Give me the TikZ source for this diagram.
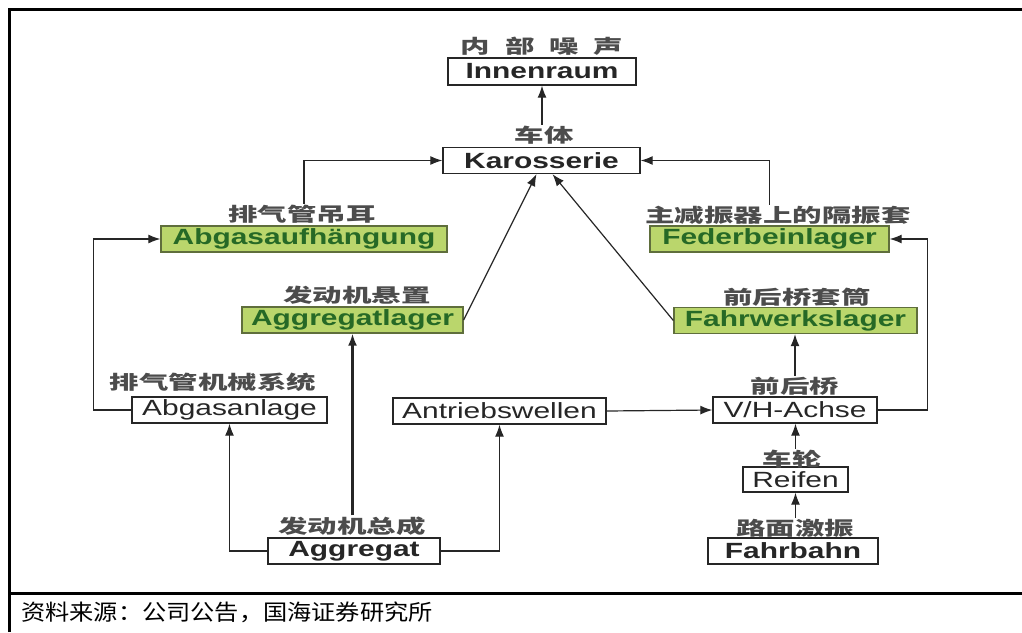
\documentclass[tikz,border=0pt]{standalone}
\usepackage{fontspec}
\setmainfont{Liberation Sans}
\newfontfamily\defont[FakeStretch=1.36]{Liberation Sans}
\newfontfamily\cjkfont[FakeStretch=1.55]{Noto Sans CJK SC}
\newfontfamily\capfont[FakeStretch=1.1]{Noto Sans CJK SC}
\usetikzlibrary{arrows.meta}
\definecolor{gfill}{RGB}{186,214,108}
\definecolor{gtext}{RGB}{38,105,38}
\definecolor{gborder}{RGB}{95,110,60}
\tikzset{
  box/.style={draw=black!85, line width=1.3pt, inner sep=0pt, minimum height=26pt,
    font=\defont\fontsize{22}{24}\selectfont, text=black!85},
  boxb/.style={box, font=\defont\bfseries\fontsize{22}{24}\selectfont},
  gbox/.style={boxb, fill=gfill, draw=gborder, text=gtext},
  lab/.style={font=\cjkfont\bfseries\fontsize{19}{22}\selectfont, text=black!70, inner sep=1pt},
  con/.style={line width=1.2pt, draw=black!85, -{Latex[length=12pt,width=9pt]}},
  frame/.style={line width=3pt}
}
\begin{document}
\begin{tikzpicture}[x=1pt,y=-1pt]
\useasboundingbox (0,0) rectangle (1022,632);
% frame
\draw[frame] (9,632) -- (9,9) -- (1022,9);
\draw[frame] (9,593) -- (1022,593);
\node[anchor=west, inner sep=0pt, font=\capfont\fontsize{22}{26}\selectfont] (cap) at (21,612) {资料来源：公司公告，国海证券研究所};
% nodes
\node[boxb, minimum width=188pt, minimum height=27pt] (inn) at (542,71.5) {Innenraum};
\node[lab] (innl) at (542,46) {内\hspace{15pt}部\hspace{15pt}噪\hspace{15pt}声};
\node[boxb, minimum width=197pt] (kar) at (541.5,160.5) {Karosserie};
\node[lab] (karl) at (544,135) {车体};
\node[gbox, minimum width=286pt] (aufh) at (304,239) {Abgasaufhängung};
\node[lab] (aufhl) at (302,214) {排气管吊耳};
\node[gbox, minimum width=239pt] (fed) at (769.5,239) {Federbeinlager};
\node[lab] (fedl) at (778,215) {主减振器上的隔振套};
\node[gbox, minimum width=221pt] (agl) at (352.5,320) {Aggregatlager};
\node[lab] (agll) at (357,295) {发动机悬置};
\node[gbox, minimum width=243pt] (fwl) at (795.5,320.5) {Fahrwerkslager};
\node[lab] (fwll) at (797,297) {前后桥套筒};
\node[box, minimum width=195pt] (anl) at (229.5,410) {Abgasanlage};
\node[lab] (anll) at (213,382) {排气管机械系统};
\node[box, minimum width=213pt] (antr) at (499.5,411) {Antriebswellen};
\node[box, minimum width=164pt] (vh) at (795,410) {V/H-Achse};
\node[lab] (vhl) at (795,386) {前后桥};
\node[box, minimum width=105pt, minimum height=25pt] (reif) at (795.5,479.5) {Reifen};
\node[lab] (reifl) at (792,459) {车轮};
\node[boxb, minimum width=170pt] (fahr) at (793,551) {Fahrbahn};
\node[lab] (fahrl) at (795,528) {路面激振};
\node[boxb, minimum width=172pt] (agg) at (354,551) {Aggregat};
\node[lab] (aggl) at (352,526) {发动机总成};
% connectors
\draw[con] (inn.south |- karl.north) -- (inn.south);
\draw[con] (aufh.north |- aufhl.north) |- (kar.west);
\draw[con] (fed.north |- fedl.north) |- (kar.east);
\draw[con] (agl.east) -- ([xshift=-5pt]kar.south);
\draw[con] (fwl.west) -- ([xshift=11pt]kar.south);
\draw[con] (anl.west) -- ++(-38,0) |- (aufh.west);
\draw[con] (vh.east) -- ++(50,0) |- (fed.east);
\draw[con] (antr.east) -- (vh.west);
\draw[con] (vh.north |- vhl.north) -- (vh.north |- fwl.south);
\draw[con] (reif.north |- reifl.north) -- (reif.north |- vh.south);
\draw[con] (reif.south |- fahrl.north) -- (reif.south);
\draw[con, line width=2.2pt] (agl.south |- aggl.north) -- (agl.south);
\draw[con] (agg.west) -| (anl.south);
\draw[con] (agg.east) -| (antr.south);
\end{tikzpicture}
\end{document}
